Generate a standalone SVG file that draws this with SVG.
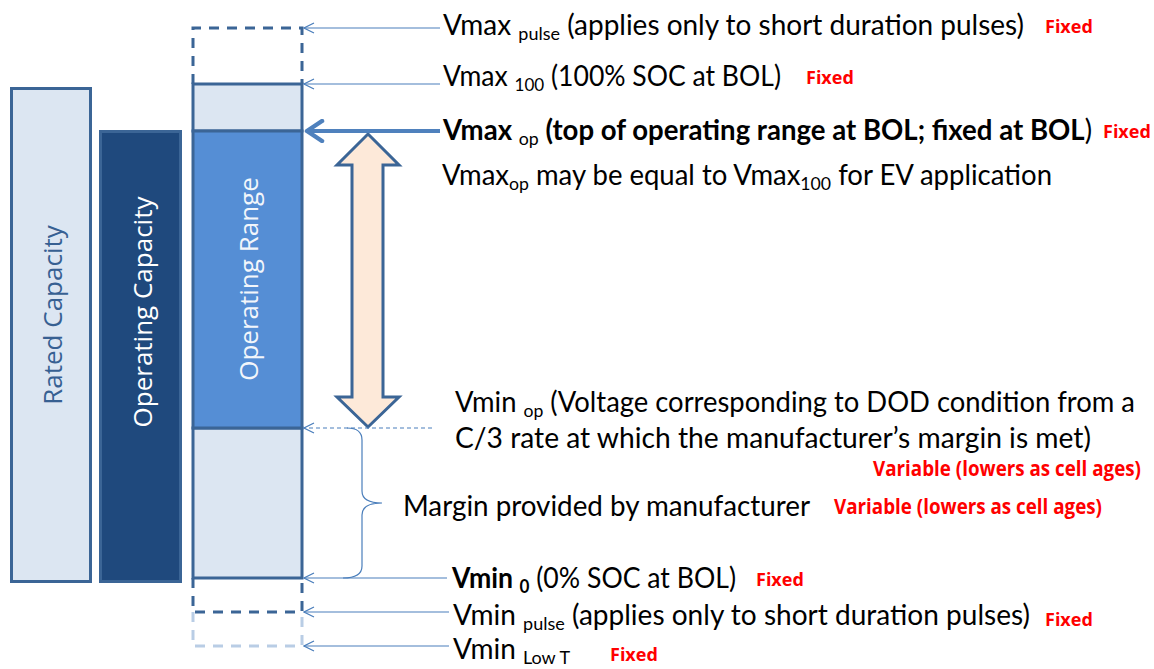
<svg xmlns="http://www.w3.org/2000/svg" width="1154" height="669" viewBox="0 0 1154 669">
<defs>
<style>
.t{font-family:Lato,"Open Sans",sans-serif;font-size:28px;fill:#000}
.b{font-weight:bold}
.r{font-family:"Open Sans",Lato,sans-serif;font-weight:bold;font-size:18px;fill:#ff0000}
.rv{font-size:21px}
.sub{font-size:18px}
.rot{font-family:"Open Sans",Lato,sans-serif;font-size:26px}
.lead{stroke:#4a7ebb;stroke-width:1.2;fill:none}
</style>
<marker id="open" viewBox="0 0 12 12" refX="11" refY="6" markerWidth="12" markerHeight="12" markerUnits="userSpaceOnUse" orient="auto">
<path d="M1 1 L11 6 L1 11" fill="none" stroke="#4a7ebb" stroke-width="1.2"/>
</marker>
<marker id="thick" viewBox="0 0 22 24" refX="20" refY="12" markerWidth="22" markerHeight="24" markerUnits="userSpaceOnUse" orient="auto">
<path d="M4 2 L19 12 L4 22" fill="none" stroke="#4f81bd" stroke-width="4.5" stroke-linejoin="round" stroke-linecap="round"/>
</marker>
</defs>

<g id="rated-capacity">
<rect x="11.5" y="88.5" width="79" height="493" fill="#dce6f2" stroke="#3b6596" stroke-width="3"/>
<text class="rot" transform="translate(62 315) rotate(-90)" text-anchor="middle" fill="#376092">Rated Capacity</text>
</g>

<g id="operating-capacity">
<rect x="100.5" y="131.5" width="80" height="450" fill="#1f497d" stroke="#3b6596" stroke-width="3"/>
<text class="rot" transform="translate(152 312) rotate(-90)" text-anchor="middle" fill="#ffffff">Operating Capacity</text>
</g>

<g id="column">
<path d="M193 84 V28 H302 V84" fill="none" stroke="#3b6596" stroke-width="3" stroke-dasharray="10 8"/>
<rect x="193" y="84" width="109" height="47" fill="#dce6f2" stroke="#3b6596" stroke-width="3"/>
<rect x="193" y="428" width="109" height="150" fill="#dce6f2" stroke="#3b6596" stroke-width="3"/>
<path d="M193 578 V612 H302 V578" fill="none" stroke="#3b6596" stroke-width="3" stroke-dasharray="10 8"/>
<path d="M193 612 V646 H302 V612" fill="none" stroke="#b9cde5" stroke-width="3" stroke-dasharray="10 8"/>
</g>

<g id="operating-range">
<rect x="193" y="131" width="109" height="297" fill="#558ed5" stroke="#3b6596" stroke-width="3"/>
<text class="rot" transform="translate(258 279) rotate(-90)" text-anchor="middle" fill="#f2f6fb">Operating Range</text>
</g>

<g id="double-arrow">
<path d="M368 134 L399 165 L383 165 L383 397 L399 397 L368 427 L337 397 L352 397 L352 165 L337 165 Z" fill="#fde9d9" stroke="#3b6596" stroke-width="3" stroke-linejoin="miter"/>
</g>

<g id="connectors">
<line class="lead" x1="440" y1="28" x2="304" y2="28" marker-end="url(#open)"/>
<line class="lead" x1="440" y1="84" x2="304" y2="84" marker-end="url(#open)"/>
<line x1="440" y1="131" x2="306" y2="131" stroke="#4f81bd" stroke-width="4" marker-end="url(#thick)"/>
<line class="lead" x1="432" y1="428" x2="304" y2="428" stroke-dasharray="4 3" marker-end="url(#open)"/>
<line class="lead" x1="447" y1="578" x2="304" y2="578" marker-end="url(#open)"/>
<line class="lead" x1="449" y1="612" x2="304" y2="612" marker-end="url(#open)"/>
<line class="lead" x1="449" y1="646" x2="304" y2="646" marker-end="url(#open)"/>
<path class="lead" d="M347 428 Q362 428 362 440 L362 491 Q362 503 382 503 Q362 503 362 515 L362 566 Q362 578 343 578"/>
</g>

<g id="labels">
<text class="t" x="443" y="35" textLength="581" lengthAdjust="spacingAndGlyphs">Vmax <tspan class="sub" dy="5">pulse</tspan><tspan dy="-5"> (applies only to short duration pulses)</tspan></text>
<text class="r" x="1045" y="33">Fixed</text>
<text class="t" x="443" y="86" textLength="338" lengthAdjust="spacingAndGlyphs">Vmax <tspan class="sub" dy="5">100</tspan><tspan dy="-5"> (100% SOC at BOL)</tspan></text>
<text class="r" x="806" y="84">Fixed</text>
<text class="t" x="443" y="140" textLength="649" lengthAdjust="spacingAndGlyphs"><tspan class="b">Vmax </tspan><tspan class="sub" dy="5">op</tspan><tspan class="b" dy="-5"> (top of operating range at BOL; fixed at BOL</tspan>)</text>
<text class="r" x="1103" y="138">Fixed</text>
<text class="t" x="442" y="185" textLength="610" lengthAdjust="spacingAndGlyphs">Vmax<tspan class="sub" dy="5">op</tspan><tspan dy="-5"> may be equal to Vmax</tspan><tspan class="sub" dy="5">100</tspan><tspan dy="-5"> for EV application</tspan></text>
<text class="t" x="455" y="412" textLength="680" lengthAdjust="spacingAndGlyphs">Vmin <tspan class="sub" dy="5">op</tspan><tspan dy="-5"> (Voltage corresponding to DOD condition from a</tspan></text>
<text class="t" x="455" y="448" textLength="636" lengthAdjust="spacingAndGlyphs">C/3 rate at which the manufacturer’s margin is met)</text>
<text class="r rv" x="873" y="476" textLength="268" lengthAdjust="spacingAndGlyphs">Variable (lowers as cell ages)</text>
<text class="t" x="403" y="516" textLength="407" lengthAdjust="spacingAndGlyphs">Margin provided by manufacturer</text>
<text class="r rv" x="834" y="514" textLength="268" lengthAdjust="spacingAndGlyphs">Variable (lowers as cell ages)</text>
<text class="t" x="452" y="588" textLength="284" lengthAdjust="spacingAndGlyphs"><tspan class="b">Vmin </tspan><tspan class="sub b" dy="5">0</tspan><tspan dy="-5"> (0% SOC at BOL)</tspan></text>
<text class="r" x="756" y="586">Fixed</text>
<text class="t" x="453" y="625" textLength="577" lengthAdjust="spacingAndGlyphs">Vmin <tspan class="sub" dy="5">pulse</tspan><tspan dy="-5"> (applies only to short duration pulses)</tspan></text>
<text class="r" x="1045" y="626">Fixed</text>
<text class="t" x="453" y="659">Vmin <tspan class="sub" dy="5">Low T</tspan></text>
<text class="r" x="610" y="661">Fixed</text>
</g>
</svg>
